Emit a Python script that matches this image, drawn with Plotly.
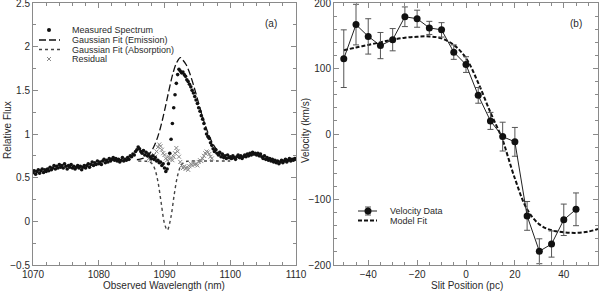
import numpy as np
import plotly.graph_objects as go

# ---------------- Panel (a) data ----------------
wl_start, wl_step = 1070.0, 0.2
measured_flux = [
    0.56, 0.58, 0.54, 0.57, 0.59, 0.55, 0.58, 0.60, 0.56, 0.59, 0.57,
    0.60, 0.58, 0.62, 0.59, 0.61, 0.64, 0.60, 0.63, 0.61, 0.65,
    0.62, 0.64, 0.61, 0.66, 0.63, 0.60, 0.64, 0.62, 0.65, 0.61,
    0.63, 0.60, 0.62, 0.64, 0.61, 0.63, 0.59, 0.62, 0.64, 0.61,
    0.64, 0.66, 0.62, 0.65, 0.68, 0.64, 0.67, 0.65, 0.69, 0.66,
    0.68, 0.65, 0.69, 0.71, 0.67, 0.70, 0.68, 0.72, 0.69, 0.71,
    0.73, 0.70, 0.72, 0.69, 0.71, 0.68, 0.70, 0.73, 0.69, 0.71,
    0.70, 0.73, 0.71, 0.75, 0.74, 0.77, 0.76, 0.80, 0.82, 0.85,
    0.83, 0.80, 0.78, 0.81, 0.76, 0.79, 0.75, 0.77, 0.74, 0.72,
    0.75, 0.71, 0.73, 0.69, 0.70, 0.67, 0.68, 0.64, 0.66, 0.61,
    0.57, 0.60, 0.66, 0.78, 0.94, 1.12, 1.30, 1.45, 1.58, 1.68,
    1.74, 1.72, 1.70, 1.71, 1.68, 1.66, 1.62, 1.60, 1.57, 1.54,
    1.50, 1.47, 1.43, 1.39, 1.35, 1.30, 1.26, 1.21, 1.17, 1.12,
    1.06, 1.00, 0.97, 0.95, 0.90, 0.87, 0.83, 0.80, 0.82, 0.78,
    0.76, 0.79, 0.74, 0.77, 0.73, 0.75, 0.72, 0.76, 0.73, 0.74,
    0.72, 0.75, 0.73, 0.71, 0.74, 0.76, 0.73, 0.75, 0.72, 0.74,
    0.76, 0.74, 0.77, 0.75, 0.78, 0.76, 0.79, 0.77, 0.78, 0.76,
    0.78, 0.75, 0.77, 0.74, 0.72, 0.75, 0.71, 0.73, 0.70, 0.72,
    0.69, 0.71, 0.68, 0.70, 0.67, 0.69, 0.66, 0.68, 0.70, 0.67,
    0.69, 0.71, 0.68, 0.70, 0.72, 0.69, 0.71, 0.70, 0.72, 0.71,
]
measured_wl = np.round(wl_start + wl_step * np.arange(len(measured_flux)), 2)

emission_wl = [1085.8, 1086.3, 1086.8, 1087.3, 1087.8, 1088.3, 1088.8, 1089.3,
               1089.8, 1090.3, 1090.8, 1091.3, 1091.8, 1092.4, 1092.8, 1093.3,
               1093.8, 1094.3, 1094.8, 1095.3, 1095.8, 1096.3, 1096.8, 1097.3,
               1097.8, 1098.3, 1098.8, 1099.3, 1099.8, 1100.3]
emission_fit = [0.705, 0.711, 0.723, 0.745, 0.782, 0.842, 0.930, 1.049,
                1.198, 1.369, 1.542, 1.698, 1.809, 1.875, 1.846, 1.793,
                1.703, 1.588, 1.458, 1.323, 1.193, 1.077, 0.977, 0.896,
                0.834, 0.788, 0.756, 0.735, 0.720, 0.710]

absorption_wl = [1086.0, 1087.0, 1087.5, 1088.0, 1088.5, 1089.0, 1089.5, 1090.0,
                 1090.4, 1090.5, 1091.0, 1091.5, 1092.0, 1092.5, 1093.0, 1093.5,
                 1094.0, 1096.0, 1098.0, 1100.0]
absorption_fit = [0.690, 0.689, 0.686, 0.667, 0.605, 0.455, 0.210, -0.026,
                  -0.100, -0.095, 0.057, 0.316, 0.527, 0.638, 0.678, 0.688,
                  0.690, 0.690, 0.690, 0.690]

residual_wl = np.round(1087.6 + 0.2 * np.arange(49), 2)
residual = [0.72, 0.70, 0.73, 0.71, 0.76, 0.74, 0.80, 0.85, 0.88, 0.86,
            0.82, 0.78, 0.76, 0.72, 0.70, 0.74, 0.71, 0.73, 0.70, 0.74,
            0.78, 0.84, 0.80, 0.74, 0.68, 0.64, 0.61, 0.63, 0.60, 0.62,
            0.59, 0.63, 0.66, 0.64, 0.67, 0.65, 0.66, 0.64, 0.68, 0.70,
            0.69, 0.72, 0.75, 0.78, 0.80, 0.79, 0.77, 0.74, 0.72]

# ---------------- Panel (b) data ----------------
slit_pos = [-50, -45, -40, -35, -30, -25, -20, -15, -10, -5,
            0, 5, 10, 15, 20, 25, 30, 35, 40, 45]
velocity = [115, 167, 149, 135, 144, 179, 176, 162, 159, 125,
            106, 59, 20, -4, -12, -125, -179, -168, -131, -115]
velocity_err = [44, 31, 27, 20, 17, 15, 13, 10, 11, 11,
                12, 12, 13, 22, 22, 22, 19, 20, 24, 25]

model_pos = [-50, -45, -40, -35, -30, -25, -20, -15, -10, -5, 0, 5, 10,
             14, 15, 20, 25, 30, 35, 40, 45, 50, 54]
model_vel = [128, 132, 136, 140, 144, 147, 148.5, 149, 146, 136, 116, 78, 33,
             0, -9, -68, -115, -138, -147, -150, -151, -149, -145]

INK = "#111111"
AX = "#8a8a8a"
TXT = "#2a2a2a"
FONT = "Liberation Sans, Arial, sans-serif"

fig = go.Figure()

# panel (a)
fig.add_trace(go.Scatter(x=emission_wl, y=emission_fit, mode="lines", line_shape="spline",
                         line=dict(color=INK, width=1.3, dash="7px,3px"), xaxis="x", yaxis="y"))
fig.add_trace(go.Scatter(x=absorption_wl, y=absorption_fit, mode="lines", line_shape="spline",
                         line=dict(color="#444444", width=1.4, dash="dot"), xaxis="x", yaxis="y"))
fig.add_trace(go.Scatter(x=residual_wl, y=residual, mode="markers",
                         marker=dict(symbol="x-thin-open", size=4, color="#888888",
                                     line=dict(width=1, color="#888888")), xaxis="x", yaxis="y"))
fig.add_trace(go.Scatter(x=measured_wl, y=measured_flux, mode="markers",
                         marker=dict(symbol="circle", size=3.6, color=INK), xaxis="x", yaxis="y"))

# panel (b)
fig.add_trace(go.Scatter(x=model_pos, y=model_vel, mode="lines", line_shape="spline",
                         line=dict(color=INK, width=2, dash="4px,2px"), xaxis="x2", yaxis="y2"))
fig.add_trace(go.Scatter(x=slit_pos, y=velocity, mode="lines+markers",
                         line=dict(color="#222222", width=1),
                         marker=dict(symbol="circle", size=7, color=INK),
                         error_y=dict(type="data", array=velocity_err, color="#555555",
                                      thickness=1, width=3),
                         xaxis="x2", yaxis="y2"))

# legend samples (overlay axis in pixel units)
fig.add_trace(go.Scatter(x=[49], y=[30], mode="markers", marker=dict(size=4, color=INK),
                         xaxis="x3", yaxis="y3"))
fig.add_trace(go.Scatter(x=[39, 60], y=[40, 40], mode="lines",
                         line=dict(color=INK, width=1.3, dash="7px,3px"), xaxis="x3", yaxis="y3"))
fig.add_trace(go.Scatter(x=[39, 60], y=[49.5, 49.5], mode="lines",
                         line=dict(color="#444444", width=1.4, dash="dot"), xaxis="x3", yaxis="y3"))
fig.add_trace(go.Scatter(x=[49], y=[59], mode="markers",
                         marker=dict(symbol="x-thin-open", size=4, color="#888888",
                                     line=dict(width=1, color="#888888")), xaxis="x3", yaxis="y3"))
fig.add_trace(go.Scatter(x=[358, 377], y=[211, 211], mode="lines", line=dict(color="#222222", width=1),
                         xaxis="x3", yaxis="y3"))
fig.add_trace(go.Scatter(x=[368], y=[211], mode="markers", marker=dict(size=7, color=INK),
                         error_y=dict(type="data", array=[4], color="#555555", thickness=1, width=3),
                         xaxis="x3", yaxis="y3"))
fig.add_trace(go.Scatter(x=[358, 377], y=[220.5, 220.5], mode="lines",
                         line=dict(color=INK, width=2, dash="4px,2px"), xaxis="x3", yaxis="y3"))

legend_texts = [("Measured Spectrum", 70, 30), ("Gaussian Fit (Emission)", 70, 40),
                ("Gaussian Fit (Absorption)", 70, 49.5), ("Residual", 70, 59),
                ("Velocity Data", 388, 211), ("Model Fit", 388, 220.5)]
annotations = []
for t, px, py in legend_texts:
    annotations.append(dict(text=t, x=px, y=py, xref="x3", yref="y3", xanchor="left",
                            yanchor="middle", showarrow=False,
                            font=dict(family=FONT, size=9, color=TXT)))
annotations.append(dict(text="(a)", x=271, y=23, xref="x3", yref="y3", showarrow=False,
                        font=dict(family=FONT, size=10, color=TXT)))
annotations.append(dict(text="(b)", x=576, y=23, xref="x3", yref="y3", showarrow=False,
                        font=dict(family=FONT, size=10, color=TXT)))

# axis titles (paper coordinates; plot area spans pixel rows 3..265)
def py_paper(py):
    return (265 - py) / 262.0


titles = [("Observed Wavelength (nm)", 164 / 600, py_paper(285.3), 0),
          ("Slit Position (pc)", 467 / 600, py_paper(285.3), 0),
          ("Relative Flux", 7 / 600, py_paper(130), -90),
          ("Velocity (km/s)", 305 / 600, py_paper(131), -90)]
for t, px, py, ang in titles:
    annotations.append(dict(text=t, x=px, y=py, xref="paper", yref="paper", showarrow=False,
                            textangle=ang, xanchor="center", yanchor="middle",
                            font=dict(family=FONT, size=10, color=TXT)))


def axis(domain, rng, dtick, minor_dtick, anchor):
    return dict(domain=domain, range=rng, dtick=dtick, tick0=0, anchor=anchor,
                showgrid=False, zeroline=False, showline=True, linecolor=AX, linewidth=1,
                mirror="ticks", ticks="inside", ticklen=5, tickcolor=AX, tickwidth=1,
                minor=dict(dtick=minor_dtick, ticks="inside", ticklen=3, tickcolor=AX,
                           tickwidth=1, showgrid=False),
                tickfont=dict(family=FONT, size=10, color=TXT),
                ticklabeloverflow="allow", ticklabelstandoff=0,
                automargin=False, fixedrange=True)


fig.update_layout(
    width=600, height=291,
    margin=dict(l=0, r=0, t=3, b=26),
    paper_bgcolor="white", plot_bgcolor="rgba(0,0,0,0)",
    showlegend=False,
    xaxis=axis([33 / 600, 296 / 600], [1070, 1110], 10, 2, "y"),
    yaxis=axis([0, 1], [-0.5, 2.5], 0.5, 0.25, "x"),
    xaxis2=axis([334 / 600, 598 / 600], [-54, 54], 20, 5, "y2"),
    yaxis2=axis([0, 1], [-200, 200], 100, 20, "x2"),
    xaxis3=dict(domain=[0, 1], range=[0, 600], visible=False, fixedrange=True, anchor="y3"),
    yaxis3=dict(domain=[0, 1], range=[265, 3], visible=False, fixedrange=True, anchor="x3"),
    annotations=annotations,
)

fig.write_html("out.html", config={"displayModeBar": False},
               post_script="document.body.style.margin='0';document.body.style.overflow='hidden';")
